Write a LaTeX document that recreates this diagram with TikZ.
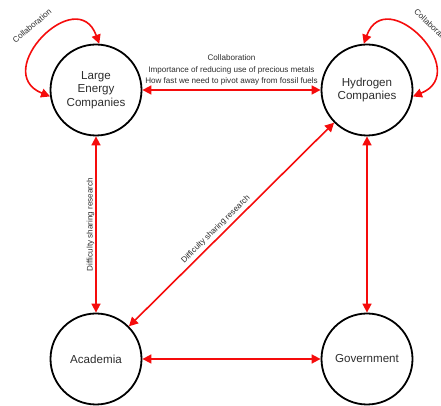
\documentclass[tikz,border=0pt]{standalone}
\usepackage{fontspec}
\setmainfont{Liberation Sans}
\usetikzlibrary{arrows.meta}
\definecolor{linkred}{RGB}{245,12,12}
\definecolor{inkgray}{RGB}{45,45,45}
\begin{document}
\begin{tikzpicture}[x=1pt,y=1pt,
  actor/.style={circle,draw=black,line width=1.8pt,minimum size=91pt,inner sep=0pt,
    align=center,text=inkgray,font=\fontsize{11.6}{13.5}\selectfont},
  link/.style={draw=linkred,line width=1.6pt,
    {Triangle[length=9pt,width=9pt]}-{Triangle[length=9pt,width=9pt]}},
  tag/.style={text=inkgray,font=\fontsize{8.1}{11.5}\selectfont,inner sep=1pt,align=center}]
\clip (0,0) rectangle (441,406);

% the four actors
\node[actor] (le) at (96,316) {Large\\Energy\\Companies};
\node[actor] (h2) at (367,316) {Hydrogen\\Companies};
\node[actor] (ac) at (96,47) {Academia};
\node[actor] (gov) at (367,47) {Government};

% self loops
\draw[link] (le.86) to[out=110,in=158,looseness=2.3] (le.188);
\draw[link] (h2.94) to[out=70,in=22,looseness=2.3] (h2.352);
\node[tag,rotate=40] (lecollab) at (32,380) {Collaboration};
\node[tag,rotate=-43] (h2collab) at (433,379) {Collaboration};

% links between actors
\draw[link] (le) -- node[tag,above=3pt] (toptags)
  {Collaboration\\Importance of reducing use of precious metals\\How fast we need to pivot away from fossil fuels} (h2);
\draw[link] (ac) -- node[tag,midway,sloped,above=0pt] (vtag) {Difficulty sharing research} (le);
\draw[link] (ac) -- node[tag,pos=0.45,sloped,above=2pt] (dtag) {Difficulty sharing research} (h2);
\draw[link] (h2) -- (gov);
\draw[link] (ac) -- (gov);
\end{tikzpicture}
\end{document}
